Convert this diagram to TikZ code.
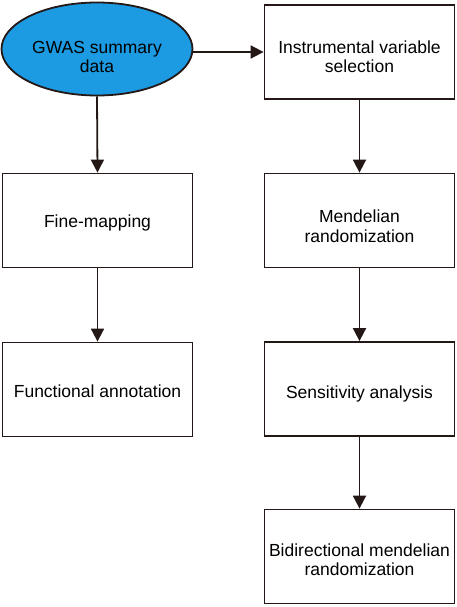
\documentclass[tikz,border=0pt]{standalone}
\usepackage{fontspec}
\setmainfont{Liberation Sans}
\usetikzlibrary{shapes.geometric,arrows.meta}
\definecolor{edge}{HTML}{231815}
\definecolor{ellblue}{HTML}{1C9AE2}
\begin{document}
\begin{tikzpicture}[x=1pt,y=-1pt,
  every node/.style={font=\fontsize{17.5}{19.5}\selectfont, align=center, text=black},
  stepbox/.style={draw=edge, line width=1.8pt, rectangle, inner sep=0pt, minimum width=190pt, minimum height=94pt},
  startell/.style={draw=edge, line width=1.8pt, ellipse, fill=ellblue, inner sep=0pt, minimum width=191pt, minimum height=93pt},
  txt/.style={yshift=-#1},
  flow/.style={draw=edge, line width=1.8pt, -{Triangle[length=13pt,width=13pt]}}]
\useasboundingbox (0,0) rectangle (457,607);
\node[startell, label={[txt=8pt]center:GWAS summary\\data}] (gwas) at (97,49) {};
\node[stepbox, label={[txt=4.5pt]center:Instrumental variable\\selection}] (iv) at (359.5,52) {};
\node[stepbox, label={[txt=2pt]center:Fine-mapping}] (fine) at (97.5,220.5) {};
\node[stepbox, label={[txt=1.5pt]center:Functional annotation}] (func) at (97.5,389.5) {};
\node[stepbox, label={[txt=5.5pt]center:Mendelian\\randomization}] (mr) at (359.5,220.5) {};
\node[stepbox, label={[txt=5pt]center:Sensitivity analysis}] (sens) at (359.5,389) {};
\node[stepbox, label={[txt=3pt]center:Bidirectional mendelian\\randomization}] (bid) at (359.5,556.5) {};
\draw[flow] (gwas.east |- iv.west) -- (iv.west);
\draw[flow] (gwas.south) -- (fine.north);
\draw[flow] (fine.south) -- (func.north);
\draw[flow] (iv.south) -- (mr.north);
\draw[flow] (mr.south) -- (sens.north);
\draw[flow] (sens.south) -- (bid.north);
\end{tikzpicture}
\end{document}
